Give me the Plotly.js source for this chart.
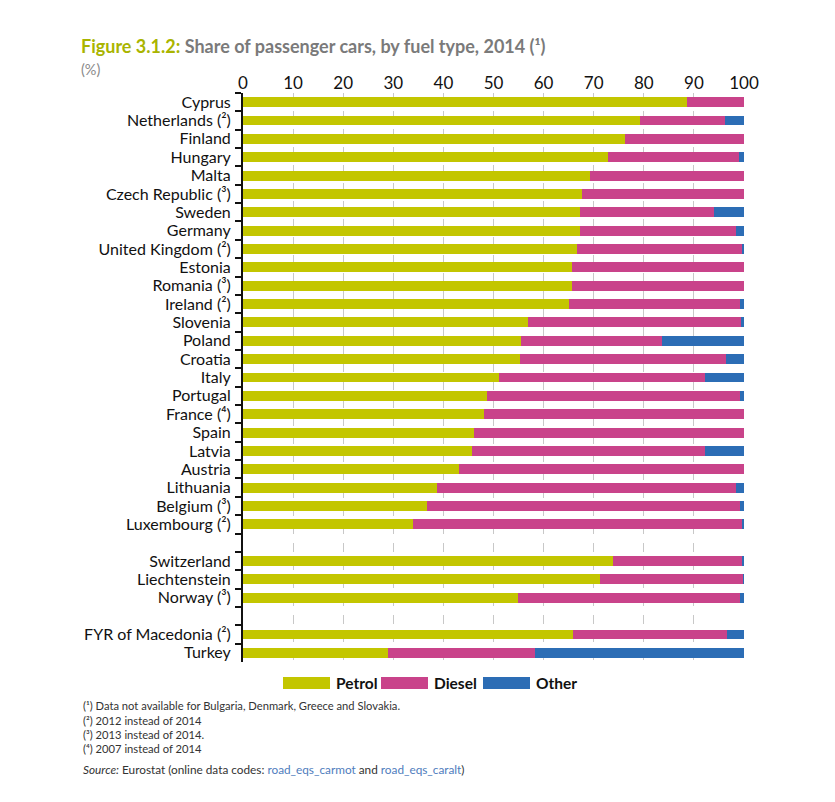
<!DOCTYPE html>
<html>
<head>
<meta charset="utf-8">
<script src="https://cdn.plot.ly/plotly-3.0.1.min.js"></script>
<style>body{margin:0;background:#fff}#chart{width:835px;height:802px}</style>
</head>
<body>
<div id="chart"></div>
<script>
const countries = ["Cyprus","Netherlands (²)","Finland","Hungary","Malta","Czech Republic (³)","Sweden","Germany","United Kingdom (²)","Estonia","Romania (³)","Ireland (²)","Slovenia","Poland","Croatia","Italy","Portugal","France (⁴)","Spain","Latvia","Austria","Lithuania","Belgium (³)","Luxembourg (²)","Switzerland","Liechtenstein","Norway (³)","FYR of Macedonia (²)","Turkey"];
const categoryOrder = ["Cyprus","Netherlands (²)","Finland","Hungary","Malta","Czech Republic (³)","Sweden","Germany","United Kingdom (²)","Estonia","Romania (³)","Ireland (²)","Slovenia","Poland","Croatia","Italy","Portugal","France (⁴)","Spain","Latvia","Austria","Lithuania","Belgium (³)","Luxembourg (²)"," ","Switzerland","Liechtenstein","Norway (³)","  ","FYR of Macedonia (²)","Turkey"];
const petrol = [88.7,79.3,76.2,72.9,69.2,67.7,67.2,67.2,66.7,65.7,65.7,65.0,56.9,55.4,55.2,51.1,48.7,48.1,46.2,45.7,43.1,38.8,36.7,33.9,73.9,71.3,54.9,65.9,29.0];
const diesel = [11.3,16.9,23.8,26.2,30.8,32.3,26.8,31.2,32.8,34.3,34.3,34.2,42.5,28.3,41.2,41.1,50.5,51.9,53.8,46.5,56.9,59.7,62.6,65.7,25.7,28.4,44.4,30.8,29.3];
const other = [0,3.8,0,0.9,0,0,6.0,1.6,0.5,0,0,0.8,0.6,16.3,3.6,7.8,0.8,0,0,7.8,0,1.5,0.7,0.4,0.4,0.3,0.7,3.3,41.7];
const xTicks = [0,10,20,30,40,50,60,70,80,90,100];
const seriesNames = ["Petrol","Diesel","Other"];
const colors = ["#c3c600","#c9438a","#2c6db5"];

const L = 243, R = 744, T = 93, B = 662;
const px = x => (x - L) / (R - L);
const py = y => (B - y) / (B - T);
const FONT = "Lato, sans-serif";

const traces = [petrol, diesel, other].map((vals, i) => ({
  type: "bar", orientation: "h", name: seriesNames[i],
  x: vals, y: countries,
  marker: {color: colors[i], line: {width: 0}},
  showlegend: false, hoverinfo: "x+y+name"
}));

const shapes = [];
const annotations = [];
const legX = [283, 381, 483];
seriesNames.forEach((n, i) => {
  shapes.push({type: "rect", xref: "paper", yref: "paper",
    x0: px(legX[i]), x1: px(legX[i] + 47), y0: py(689), y1: py(677),
    fillcolor: colors[i], line: {width: 0}});
  annotations.push({xref: "paper", yref: "paper", x: px(legX[i] + 51), y: py(683),
    xanchor: "left", yanchor: "middle", showarrow: false,
    text: "<b>" + n + "</b>", font: {family: FONT, size: 15.5, color: "#111"}});
});

annotations.push({xref: "paper", yref: "paper", x: px(79), y: py(46), xanchor: "left", yanchor: "middle", showarrow: false,
  text: '<b><span style="color:#a9b400">Figure 3.1.2:</span> Share of passenger cars, by fuel type, 2014 (¹)</b>',
  font: {family: FONT, size: 18, color: "#7a7a7a"}});
annotations.push({xref: "paper", yref: "paper", x: px(79), y: py(69), xanchor: "left", yanchor: "middle", showarrow: false,
  text: "(%)", font: {family: FONT, size: 14.5, color: "#8a8a8a"}});

const notes = ["(¹) Data not available for Bulgaria, Denmark, Greece and Slovakia.",
  "(²) 2012 instead of 2014", "(³) 2013 instead of 2014.", "(⁴) 2007 instead of 2014"];
const noteY = [706, 720, 734, 748];
notes.forEach((t, i) => annotations.push({xref: "paper", yref: "paper", x: px(81), y: py(noteY[i]),
  xanchor: "left", yanchor: "middle", showarrow: false, text: t,
  font: {family: FONT, size: 11.2, color: "#333"}}));
annotations.push({xref: "paper", yref: "paper", x: px(81), y: py(769), xanchor: "left", yanchor: "middle", showarrow: false,
  text: '<i>Source:</i> Eurostat (online data codes: <span style="color:#4f7dbd">road_eqs_carmot</span> and <span style="color:#4f7dbd">road_eqs_caralt</span>)',
  font: {family: FONT, size: 11.8, color: "#333"}});

const layout = {
  width: 835, height: 802,
  margin: {l: L, r: 835 - R, t: T, b: 802 - B, pad: 0},
  paper_bgcolor: "#fff", plot_bgcolor: "#fff",
  barmode: "stack", bargap: 0.46,
  xaxis: {side: "top", range: [0, 100], tickvals: xTicks, ticks: "", showline: false, zeroline: false,
    showgrid: true, gridcolor: "#c8c8c8", griddash: "dash", gridwidth: 1,
    tickfont: {family: FONT, size: 17, color: "#111"}, fixedrange: true},
  yaxis: {type: "category", categoryorder: "array", categoryarray: categoryOrder, autorange: "reversed",
    tickmode: "linear", tick0: 0, dtick: 1,
    tickson: "boundaries", ticks: "outside", ticklen: 6, tickwidth: 2, tickcolor: "#111",
    ticklabelstandoff: 7,
    showline: true, linewidth: 2, linecolor: "#111", showgrid: false, zeroline: false,
    tickfont: {family: FONT, size: 16, color: "#111"}, fixedrange: true},
  shapes: shapes, annotations: annotations
};
Plotly.newPlot("chart", traces, layout, {displayModeBar: false, staticPlot: true});
</script>
</body>
</html>
